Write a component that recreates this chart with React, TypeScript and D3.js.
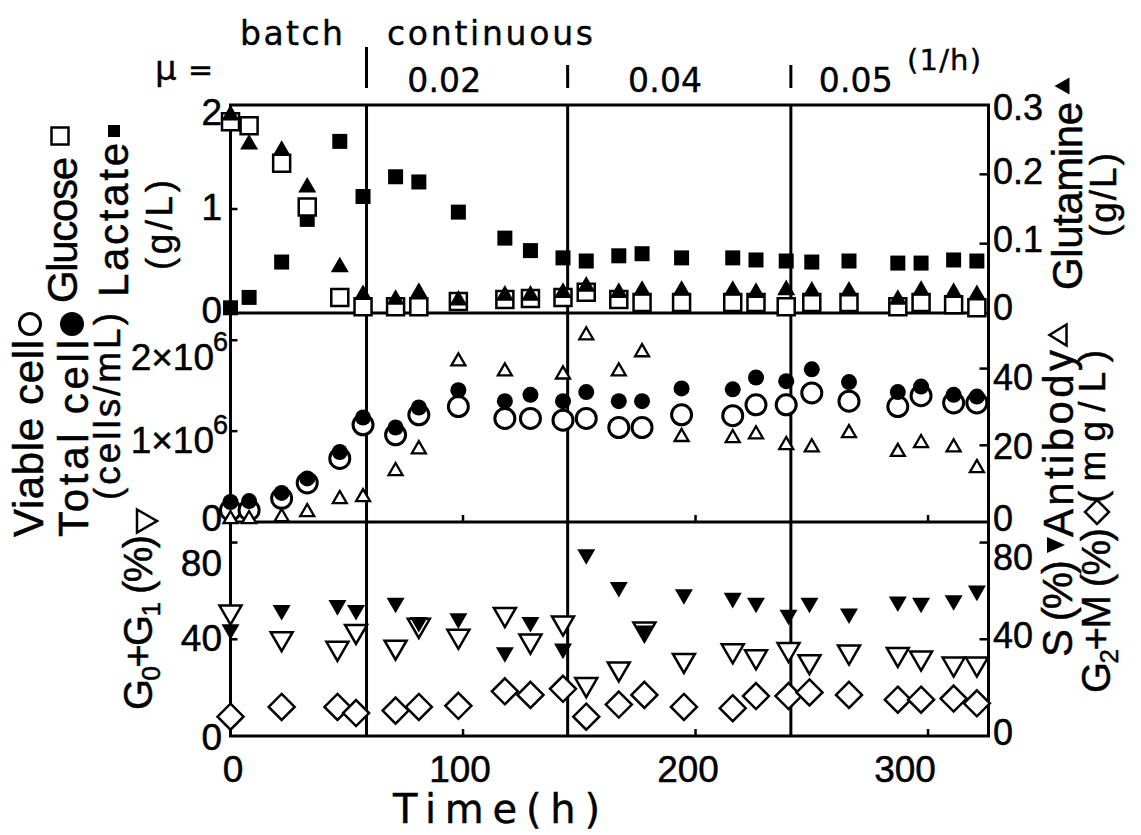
import React from 'react';
import * as d3 from 'd3';

// ---------- DATA ----------
const timesMain = [0, 8, 22, 33, 47, 57, 71, 81, 98, 118, 129, 143, 153, 167, 177, 194, 216, 226, 239, 250, 266, 287, 297, 311, 321];
const lactate = [0.05, 0.15, 0.49, 0.9, 1.65, 1.12, 1.31, 1.26, 0.97, 0.72, 0.6, 0.53, 0.5, 0.55, 0.57, 0.53, 0.53, 0.51, 0.5, 0.49, 0.5, 0.48, 0.48, 0.51, 0.5];
const glucose = [1.84, 1.8, 1.44, 1.02, 0.15, 0.06, 0.06, 0.06, 0.11, 0.13, 0.14, 0.15, 0.2, 0.13, 0.1, 0.1, 0.1, 0.1, 0.06, 0.1, 0.1, 0.06, 0.1, 0.08, 0.05];
const glutamine = [0.289, 0.247, 0.238, 0.185, 0.07, 0.03, 0.023, 0.033, 0.022, 0.029, 0.029, 0.033, 0.042, 0.033, 0.036, 0.036, 0.036, 0.033, 0.037, 0.035, 0.035, 0.023, 0.036, 0.033, 0.03];
const totalCell = [0.22, 0.23, 0.32, 0.48, 0.77, 1.15, 1.04, 1.26, 1.45, 1.33, 1.4, 1.33, 1.43, 1.33, 1.33, 1.47, 1.46, 1.59, 1.55, 1.68, 1.54, 1.43, 1.49, 1.4, 1.38]; // x10^6 cells/mL
const viableCell = [0.13, 0.13, 0.26, 0.43, 0.7, 1.07, 0.96, 1.18, 1.27, 1.14, 1.14, 1.12, 1.14, 1.04, 1.04, 1.18, 1.17, 1.29, 1.29, 1.42, 1.33, 1.27, 1.39, 1.31, 1.31];
const antibody: (number | null)[] = [1.3, 1.3, 1.8, 3.1, 6.5, 7.0, 13.8, 19.5, 42.4, 39.8, null, 39, 49.2, 39.8, 44.8, 22.7, 22.4, 23.4, 20.6, 20, 23.7, 18.8, 21.1, 20, 14.6];

const timesCycle = [0, 22, 46, 54, 71, 81, 98, 118, 129, 143, 153, 167, 178, 195, 216, 226, 240, 249, 266, 287, 297, 311, 321];
const g0g1 = [50, 39, 35, 42, 35.5, 44.5, 40, 49, 38, 45.5, 20, 26.5, 43, 30, 34, 31.5, 34.5, 29.5, 33.5, 32.5, 31, 28.5, 28.5];
const sPhase = [43, 51, 53, 51, 54, 46, 47.5, 33.5, 46, 35, 74, 60.5, 42.5, 57.5, 56, 54, 49, 54, 49.5, 54.5, 54, 55, 59];
const g2m = [8, 12, 12, 9.5, 10.5, 12, 12.5, 18.5, 17, 19.5, 8, 13, 17, 12, 11.5, 16.5, 16.5, 18, 17, 15, 15, 15.5, 13.5];

const phaseBoundaries = [58.5, 145, 241];
const muLabels = ['0.02', '0.04', '0.05'];
const muLabelStarts = [76, 171, 253];
const xTicks = [0, 100, 200, 300];
const topLeftTicks = [0, 1, 2];
const topRightTicks = [0, 0.1, 0.2, 0.3];
const midLeftTicks = [0, 1, 2];
const midRightTicks = [0, 20, 40];
const botTicks = [0, 40, 80];

// ---------- LAYOUT ----------
const W = 1141, H = 835;
const L = 230.5, R = 988.5;
const T0 = 105, B0 = 313, B1 = 522, B2 = 736;
const FONT = "'Liberation Sans', Arial, sans-serif";
const FONT2 = "'DejaVu Sans', sans-serif";

const x = d3.scaleLinear().domain([0, 326]).range([L, R]);
const yTopL = d3.scaleLinear().domain([0, 2]).range([B0, T0]);
const yTopR = d3.scaleLinear().domain([0, 0.3]).range([B0, T0]);
const yMidL = d3.scaleLinear().domain([0, 2.3]).range([B1, B0]);
const yMidR = d3.scaleLinear().domain([0, 54.5]).range([B1, B0]);
const yBot = d3.scaleLinear().domain([0, 88.5]).range([B2, B1]);

// marker paths (bbox centred)
const sq = (s: number) => `M${-s / 2},${-s / 2}h${s}v${s}h${-s}Z`;
const triUp = (w: number) => { const h = w * 0.866; return `M0,${-h / 2}L${w / 2},${h / 2}L${-w / 2},${h / 2}Z`; };
const triDown = (w: number) => { const h = w * 0.866; return `M0,${h / 2}L${w / 2},${-h / 2}L${-w / 2},${-h / 2}Z`; };
const triRight = (d: number, h: number) => `M${-d / 2},${-h / 2}L${d / 2},0L${-d / 2},${h / 2}Z`;
const triLeft = (d: number, h: number) => `M${d / 2},${-h / 2}L${-d / 2},0L${d / 2},${h / 2}Z`;
const diamond = (s: number) => `M0,${-s / 2}L${s / 2},0L0,${s / 2}L${-s / 2},0Z`;

type MarkSpec = { times: number[]; values: (number | null)[]; y: d3.ScaleLinear<number, number>; path: string; fill: string; stroke?: string; sw?: number; circle?: number };

function Marks({ spec }: { spec: MarkSpec }) {
  return (
    <g>
      {spec.times.map((t, i) => {
        const v = spec.values[i];
        if (v === null || v === undefined) return null;
        const cx = x(t), cy = spec.y(v);
        if (spec.circle) {
          return <circle key={i} cx={cx} cy={cy} r={spec.circle} fill={spec.fill} stroke={spec.stroke || 'none'} strokeWidth={spec.sw || 0} />;
        }
        return <path key={i} d={spec.path} transform={`translate(${cx},${cy})`} fill={spec.fill} stroke={spec.stroke || 'none'} strokeWidth={spec.sw || 0} strokeLinejoin="miter" />;
      })}
    </g>
  );
}

function VLabel({ bx, sy, len, fs, children }: { bx: number; sy: number; len: number; fs: number; children: React.ReactNode }) {
  return (
    <text transform={`translate(${bx},${sy}) rotate(-90)`} fontSize={fs} textLength={len} lengthAdjust="spacing">{children}</text>
  );
}

export default function App() {
  const tickFs = 37;
  const leftAxes = [
    { scale: yTopL, ticks: topLeftTicks, nudge: [-3, -2, 7], sci: false },
    { scale: yMidL, ticks: midLeftTicks, nudge: [-4, 9, 17], sci: true },
    { scale: yBot, ticks: botTicks, nudge: [1, -1, 20], sci: false },
  ];
  const rightAxes = [
    { scale: yTopR, ticks: topRightTicks, nudge: [-5, -4, -2, 3] },
    { scale: yMidR, ticks: midRightTicks, nudge: [-3, 2, 9] },
    { scale: yBot, ticks: botTicks, nudge: [-3, -3, 15] },
  ];
  const xNudge = [2.5, -3, -7.5, -23];

  const specs: MarkSpec[] = [
    { times: timesMain, values: lactate, y: yTopL, path: sq(15), fill: '#000' },
    { times: timesMain, values: glucose, y: yTopL, path: sq(17), fill: '#fff', stroke: '#000', sw: 2.5 },
    { times: timesMain, values: glutamine, y: yTopR, path: triUp(18), fill: '#000' },
    { times: timesMain, values: viableCell, y: yMidL, path: '', fill: '#fff', stroke: '#000', sw: 3, circle: 10 },
    { times: timesMain, values: totalCell, y: yMidL, path: '', fill: '#000', circle: 8 },
    { times: timesMain, values: antibody, y: yMidR, path: triUp(14), fill: '#fff', stroke: '#000', sw: 2.3 },
    { times: timesCycle, values: g0g1, y: yBot, path: triDown(22), fill: '#fff', stroke: '#000', sw: 2.5 },
    { times: timesCycle, values: sPhase, y: yBot, path: triDown(18), fill: '#000' },
    { times: timesCycle, values: g2m, y: yBot, path: diamond(26), fill: '#fff', stroke: '#000', sw: 2.5 },
  ];

  return (
    <svg width={W} height={H} viewBox={`0 0 ${W} ${H}`} style={{ position: 'absolute', left: 0, top: 0, background: '#fff' }} fontFamily={FONT} fill="#000">
      <rect x={0} y={0} width={W} height={H} fill="#fff" />

      {/* header */}
      <g fontFamily={FONT2} stroke="#000" strokeWidth={0.4}>
        <text x={240} y={45} fontSize={33} textLength={103} lengthAdjust="spacing">batch</text>
        <text x={387} y={45} fontSize={33} textLength={206} lengthAdjust="spacing">continuous</text>
        <text x={155} y={80} fontSize={34}>μ</text>
        <text x={188} y={80} fontSize={30}>=</text>
        {muLabels.map((m, i) => (
          <text key={m} x={x(muLabelStarts[i])} y={92} fontSize={33} textLength={74} lengthAdjust="spacing">{m}</text>
        ))}
        <text x={907} y={70} fontSize={29} textLength={74} lengthAdjust="spacing">(1/h)</text>
        <text x={393} y={823} fontSize={40} textLength={207} lengthAdjust="spacing">Time(h)</text>
      </g>
      {phaseBoundaries.map((b, i) => (
        <line key={b} x1={x(b)} x2={x(b)} y1={i === 0 ? 47 : 65} y2={88} stroke="#000" strokeWidth={3} />
      ))}

      {/* frame & panel dividers */}
      <rect x={L} y={T0} width={R - L} height={B2 - T0} fill="none" stroke="#000" strokeWidth={3} />
      <line x1={L} x2={R} y1={B0} y2={B0} stroke="#000" strokeWidth={3} />
      <line x1={L} x2={R} y1={B1} y2={B1} stroke="#000" strokeWidth={3} />
      {phaseBoundaries.map((b) => (
        <line key={'v' + b} x1={x(b)} x2={x(b)} y1={T0} y2={B2} stroke="#000" strokeWidth={3} />
      ))}

      {/* x ticks */}
      {xTicks.filter((t) => t > 0).map((t) => (
        <g key={'xt' + t}>
          <line x1={x(t)} x2={x(t)} y1={B2} y2={B2 - 7} stroke="#000" strokeWidth={2.5} />
          <line x1={x(t)} x2={x(t)} y1={B1} y2={B1 - 7} stroke="#000" strokeWidth={2.5} />
        </g>
      ))}
      <g stroke="#000" strokeWidth={0.5}>
        {xTicks.map((t, i) => (
          <text key={'xl' + t} x={x(t) + xNudge[i]} y={782} fontSize={tickFs} textAnchor="middle">{t}</text>
        ))}
      </g>

      {/* left axes */}
      <g stroke="#000" strokeWidth={0.5}>
        {leftAxes.map((ax, ai) => (
          <g key={'la' + ai}>
            {ax.ticks.map((t, i) => {
              const yy = ax.scale(t);
              const c = yy + ax.nudge[i];
              const tick = (i > 0 && !(ai === 0 && i === ax.ticks.length - 1)) ? <line x1={L} x2={L + 7} y1={yy} y2={yy} stroke="#000" strokeWidth={2.5} /> : null;
              if (ax.sci && t > 0) {
                return (
                  <g key={i}>
                    {tick}
                    <text x={214} y={c + 13} fontSize={tickFs} textAnchor="end">{`${t}×10`}</text>
                    <text x={213} y={c - 6} fontSize={27}>6</text>
                  </g>
                );
              }
              return (
                <g key={i}>
                  {tick}
                  <text x={222} y={c + 13} fontSize={tickFs} textAnchor="end">{t}</text>
                </g>
              );
            })}
          </g>
        ))}
      </g>

      {/* right axes */}
      <g stroke="#000" strokeWidth={0.5}>
        {rightAxes.map((ax, ai) => (
          <g key={'ra' + ai}>
            {ax.ticks.map((t, i) => {
              const yy = ax.scale(t);
              const c = yy + ax.nudge[i];
              const isEnd = i === 0 || (ai === 0 && i === ax.ticks.length - 1);
              return (
                <g key={i}>
                  {!isEnd && <line x1={R - 9} x2={R} y1={yy} y2={yy} stroke="#000" strokeWidth={2.5} />}
                  <text x={993} y={c + 12} fontSize={tickFs - 1}>{t}</text>
                </g>
              );
            })}
          </g>
        ))}
      </g>

      {/* axis titles */}
      <g stroke="#000" strokeWidth={0.5}>
        <VLabel bx={77} sy={303} len={146} fs={42}>Glucose</VLabel>
        <VLabel bx={128} sy={297} len={154} fs={42}>Lactate</VLabel>
        <VLabel bx={172} sy={270} len={90} fs={37}>(g/L)</VLabel>
        <VLabel bx={43} sy={537} len={197} fs={42}>Viable cell</VLabel>
        <VLabel bx={88} sy={537} len={197} fs={42}>Total cell</VLabel>
        <VLabel bx={120} sy={500} len={187} fs={37}>(cells/mL)</VLabel>
        <VLabel bx={152} sy={710} len={175} fs={40}>
          G<tspan fontSize={26} dy={8}>0</tspan><tspan dy={-8}>+G</tspan><tspan fontSize={26} dy={8}>1</tspan><tspan dy={-8}> (%)</tspan>
        </VLabel>
        <VLabel bx={1082} sy={290} len={188} fs={42}>Glutamine</VLabel>
        <VLabel bx={1116} sy={237} len={84} fs={37}>(g/L)</VLabel>
        <VLabel bx={1073} sy={537} len={187} fs={42}>Antibody</VLabel>
        <VLabel bx={1105} sy={503} len={153} fs={37}>(mg/L)</VLabel>
        <VLabel bx={1072} sy={657} len={97} fs={42}>S (%)</VLabel>
        <VLabel bx={1110} sy={693} len={165} fs={40}>
          G<tspan fontSize={26} dy={8}>2</tspan><tspan dy={-8}>+M (%)</tspan>
        </VLabel>
      </g>
      <path d={sq(17)} transform="translate(60,136)" fill="#fff" stroke="#000" strokeWidth={2.5} />
      <path d={sq(12)} transform="translate(114,131)" fill="#000" />
      <circle cx={30} cy={324} r={10.5} fill="#fff" stroke="#000" strokeWidth={3} />
      <circle cx={72} cy={324} r={12} fill="#000" />
      <path d={triRight(20, 23)} transform="translate(147,521)" fill="#fff" stroke="#000" strokeWidth={2.5} />
      <path d={triLeft(15, 17)} transform="translate(1062,86)" fill="#000" />
      <path d={triLeft(17, 21)} transform="translate(1058,335)" fill="#fff" stroke="#000" strokeWidth={2.5} />
      <path d={triRight(18, 16)} transform="translate(1056,545)" fill="#000" />
      <path d={diamond(24)} transform="translate(1097,512)" fill="#fff" stroke="#000" strokeWidth={2.5} />

      {/* data marks */}
      {specs.map((s, i) => <Marks key={i} spec={s} />)}
    </svg>
  );
}
